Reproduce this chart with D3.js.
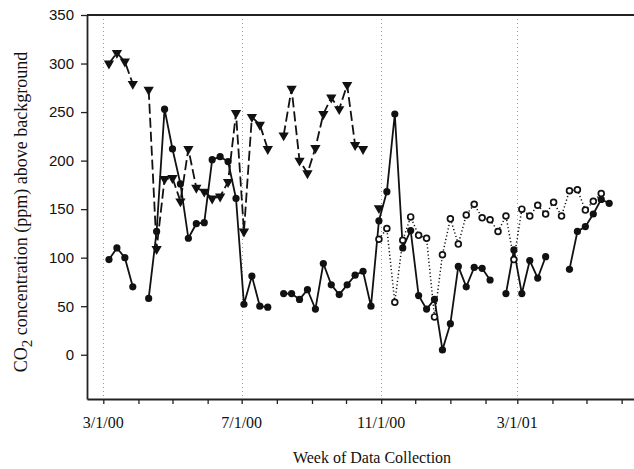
<!DOCTYPE html>
<html>
<head>
<meta charset="utf-8">
<script src="https://cdn.jsdelivr.net/npm/d3@7"></script>
<style>
  html, body { margin: 0; padding: 0; background: #fff; }
  svg { display: block; }
</style>
</head>
<body>
<svg id="chart" width="634" height="469"></svg>
<script>
// ---- data ----
const weeks = [
  "2000-03-06","2000-03-13","2000-03-20","2000-03-27","2000-04-03","2000-04-10","2000-04-17","2000-04-24",
  "2000-05-01","2000-05-08","2000-05-15","2000-05-22","2000-05-29","2000-06-05","2000-06-12","2000-06-19",
  "2000-06-26","2000-07-03","2000-07-10","2000-07-17","2000-07-24","2000-07-31","2000-08-07","2000-08-14",
  "2000-08-21","2000-08-28","2000-09-04","2000-09-11","2000-09-18","2000-09-25","2000-10-02","2000-10-09",
  "2000-10-16","2000-10-23","2000-10-30","2000-11-06","2000-11-13","2000-11-20","2000-11-27","2000-12-04",
  "2000-12-11","2000-12-18","2000-12-25","2001-01-01","2001-01-08","2001-01-15","2001-01-22","2001-01-29",
  "2001-02-05","2001-02-12","2001-02-19","2001-02-26","2001-03-05","2001-03-12","2001-03-19","2001-03-26",
  "2001-04-02","2001-04-09","2001-04-16","2001-04-23","2001-04-30","2001-05-07","2001-05-14","2001-05-21"
];
const solidFilled = [
  98,110,100,70,null,58,127,253, 212,176,120,135,136,201,204,199,
  161,52,81,50,49,null,63,63, 57,67,47,94,72,62,72,82,
  86,50,138,168,248,110,128,61, 47,57,5,32,91,70,90,89,
  77,null,63,108,63,97,79,101, null,null,88,127,132,145,160,156
];
const dashedTriangle = [
  300,311,302,279,null,273,109,181, 182,158,212,172,168,161,163,178,
  249,127,245,237,212,null,226,274, 200,187,213,248,265,253,278,216,
  212,null,151,null,null,null,null,null, null,null,null,null,null,null,null,null,
  null,null,null,null,null,null,null,null, null,null,null,null,null,null,null,null
];
const dottedOpen = [
  null,null,null,null,null,null,null,null, null,null,null,null,null,null,null,null,
  null,null,null,null,null,null,null,null, null,null,null,null,null,null,null,null,
  null,null,119,130,54,118,142,123, 120,39,103,140,114,144,155,141,
  139,127,143,98,150,143,154,145, 157,143,169,170,149,158,166,null
];
const yTicks = [0, 50, 100, 150, 200, 250, 300, 350];
const xLabelDates = ["2000-03-01", "2000-07-01", "2000-11-01", "2001-03-01"];
const xLabelTexts = ["3/1/00", "7/1/00", "11/1/00", "3/1/01"];

// ---- layout ----
const svg = d3.select("#chart");
const mLeft = 87, mRight = 634, mTop = 15, mBottom = 399;
const parse = d3.timeParse("%Y-%m-%d");

const xRef = d3.scaleTime()
  .domain([parse("2000-03-01"), parse("2001-03-01")])
  .range([103.3, 517.3]);
const x = d3.scaleTime()
  .domain([xRef.invert(mLeft), xRef.invert(mRight)])
  .range([mLeft, mRight]);
const y = d3.scaleLinear().domain([-45.6, 350]).range([mBottom, mTop]);

const dates = weeks.map(parse);

// vertical dotted gridlines
svg.append("g").selectAll("line")
  .data(xLabelDates.map(parse))
  .join("line")
  .attr("x1", d => Math.round(x(d)) + 0.5).attr("x2", d => Math.round(x(d)) + 0.5)
  .attr("y1", mTop).attr("y2", mBottom)
  .attr("stroke", "#9a9a9a").attr("stroke-width", 1)
  .attr("stroke-dasharray", "1,3");

// frame top line
svg.append("line")
  .attr("x1", mLeft).attr("x2", mRight).attr("y1", mTop).attr("y2", mTop)
  .attr("stroke", "#222").attr("stroke-width", 1.8);

// y axis
const yAxis = svg.append("g")
  .attr("transform", `translate(${mLeft},0)`)
  .call(d3.axisLeft(y).tickValues(yTicks).tickSize(6).tickSizeOuter(0).tickPadding(7));
yAxis.select(".domain").attr("stroke", "#222").attr("stroke-width", 1.8);
yAxis.selectAll(".tick line").attr("stroke", "#222").attr("stroke-width", 1.3);
yAxis.selectAll(".tick text")
  .attr("font-family", "'Liberation Sans', Arial, sans-serif")
  .attr("font-size", 15).attr("fill", "#111");

// x axis
const xAxis = svg.append("g")
  .attr("transform", `translate(0,${mBottom})`)
  .call(d3.axisBottom(x).ticks(d3.timeMonth.every(1)).tickSize(5).tickSizeOuter(0).tickFormat(""));
xAxis.select(".domain").attr("stroke", "#222").attr("stroke-width", 1.8);
xAxis.selectAll(".tick line").attr("stroke", "#222").attr("stroke-width", 1.3);

svg.append("g").selectAll("text")
  .data(xLabelDates.map((d, i) => ({ d: parse(d), t: xLabelTexts[i] })))
  .join("text")
  .attr("x", d => x(d.d)).attr("y", 428)
  .attr("text-anchor", "middle")
  .attr("font-family", "'Liberation Serif', 'Times New Roman', serif")
  .attr("font-size", 16).attr("fill", "#111")
  .text(d => d.t);

// axis titles
svg.append("text")
  .attr("x", 372).attr("y", 463)
  .attr("text-anchor", "middle")
  .attr("font-family", "'Liberation Serif', 'Times New Roman', serif")
  .attr("font-size", 16).attr("fill", "#111")
  .text("Week of Data Collection");

const yt = svg.append("text")
  .attr("transform", "translate(27,212) rotate(-90)")
  .attr("text-anchor", "middle")
  .attr("font-family", "'Liberation Serif', 'Times New Roman', serif")
  .attr("font-size", 18).attr("fill", "#111");
yt.append("tspan").text("CO");
yt.append("tspan").attr("dy", 5).attr("font-size", 15).text("2");
yt.append("tspan").attr("dy", -5).text(" concentration (ppm) above background");

// series
function series(vals) {
  return vals.map((v, i) => ({ d: dates[i], v }));
}
const line = d3.line().defined(p => p.v != null).x(p => x(p.d)).y(p => y(p.v));

const sDash = series(dashedTriangle);
const sDot = series(dottedOpen);
const sSolid = series(solidFilled);

svg.append("path").datum(sDash).attr("d", line)
  .attr("fill", "none").attr("stroke", "#111").attr("stroke-width", 1.8)
  .attr("stroke-dasharray", "10,4");
svg.append("path").datum(sDot).attr("d", line)
  .attr("fill", "none").attr("stroke", "#111").attr("stroke-width", 1.5)
  .attr("stroke-dasharray", "1.2,2.4");
svg.append("path").datum(sSolid).attr("d", line)
  .attr("fill", "none").attr("stroke", "#111").attr("stroke-width", 1.8);

const tri = d3.symbol().type(d3.symbolTriangle).size(46);
svg.append("g").selectAll("path")
  .data(sDash.filter(p => p.v != null))
  .join("path")
  .attr("d", tri)
  .attr("transform", p => `translate(${x(p.d)},${y(p.v)}) rotate(180)`)
  .attr("fill", "#111");

svg.append("g").selectAll("circle")
  .data(sDot.filter(p => p.v != null))
  .join("circle")
  .attr("cx", p => x(p.d)).attr("cy", p => y(p.v)).attr("r", 2.9)
  .attr("fill", "#fff").attr("stroke", "#111").attr("stroke-width", 1.7);

svg.append("g").selectAll("circle")
  .data(sSolid.filter(p => p.v != null))
  .join("circle")
  .attr("cx", p => x(p.d)).attr("cy", p => y(p.v)).attr("r", 3.6)
  .attr("fill", "#111");
</script>
</body>
</html>
